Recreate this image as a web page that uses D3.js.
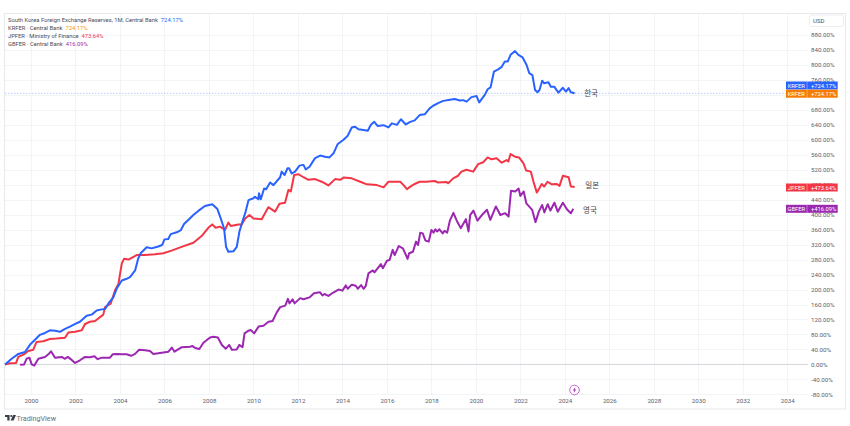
<!DOCTYPE html>
<html>
<head>
<meta charset="utf-8">
<script src="https://cdn.jsdelivr.net/npm/d3@7"></script>
<style>
  html, body { margin: 0; padding: 0; background: #fff; }
  svg { display: block; }
  text { font-family: Roboto, sans-serif; }
  text.country { font-family: "Noto Sans CJK KR", sans-serif; writing-mode: horizontal-tb; text-orientation: mixed; }
</style>
</head>
<body>
<div id="chart"></div>
<script>
// [year, % change]
const krfer = [
  [1998.83,0],[1999.13,15],[1999.43,28],[1999.73,33],[1999.96,53],[2000.18,66],[2000.40,79],[2000.63,84],
  [2000.85,91],[2001.08,90],[2001.30,87],[2001.53,95],[2001.75,101],[2001.99,108],[2002.2,114],[2002.5,130],
  [2002.73,133],[2002.95,144],[2003.18,147],[2003.33,148],[2003.48,163],[2003.70,179],[2003.85,202],[2004.08,224],
  [2004.27,228],[2004.45,233],[2004.68,251],[2004.82,283],[2004.93,297],[2005.2,313],[2005.42,310],[2005.72,315],
  [2005.9,319],[2006.0,334],[2006.17,335],[2006.28,348],[2006.55,353],[2006.74,359],[2006.88,375],[2007.07,386],
  [2007.3,399],[2007.52,410],[2007.82,423],[2008.15,428],[2008.38,415],[2008.53,390],[2008.68,363],[2008.77,314],
  [2008.87,301],[2009.1,302],[2009.25,314],[2009.37,355],[2009.55,390],[2009.63,404],[2009.78,439],[2010,444],
  [2010.07,448],[2010.22,441],[2010.25,457],[2010.33,441],[2010.48,470],[2010.57,468],[2010.75,486],[2010.9,479],
  [2011.2,500],[2011.27,515],[2011.4,506],[2011.53,524],[2011.6,524],[2011.72,510],[2011.87,515],[2012.07,531],
  [2012.25,533],[2012.35,521],[2012.52,528],[2012.77,551],[2013.0,558],[2013.22,555],[2013.42,553],[2013.6,564],
  [2013.78,588],[2014.05,600],[2014.23,610],[2014.42,633],[2014.57,635],[2014.72,628],[2014.95,626],[2015.14,624],
  [2015.28,640],[2015.43,648],[2015.58,637],[2015.85,639],[2016.07,633],[2016.22,644],[2016.45,640],[2016.63,655],
  [2016.85,641],[2017.05,648],[2017.25,652],[2017.47,666],[2017.7,668],[2017.92,684],[2018.08,691],[2018.3,698],
  [2018.53,704],[2018.83,707],[2019.05,709],[2019.28,705],[2019.43,706],[2019.58,702],[2019.8,714],[2020.03,717],
  [2020.15,700],[2020.4,720],[2020.53,735],[2020.66,740],[2020.81,782],[2021.0,788],[2021.15,794],[2021.3,809],
  [2021.43,809],[2021.56,827],[2021.76,837],[2021.91,827],[2022.1,820],[2022.28,800],[2022.4,778],[2022.54,773],
  [2022.66,733],[2022.77,727],[2022.86,733],[2022.98,758],[2023.07,751],[2023.26,754],[2023.37,742],[2023.52,742],
  [2023.71,726],[2023.91,739],[2024.05,729],[2024.17,738],[2024.27,727],[2024.44,724.17]
];

const jpfer = [
  [1998.83,0],[1999.06,3],[1999.33,4],[1999.43,20],[1999.66,26],[1999.88,36],[2000.1,39],[2000.25,60],
  [2000.55,62],[2000.85,68],[2001.15,69],[2001.53,71],[2001.68,85],[2001.98,87],[2002.28,91],[2002.43,108],
  [2002.65,114],[2002.88,116],[2003.25,133],[2003.33,153],[2003.58,162],[2003.78,198],[2003.93,215],[2004.08,269],
  [2004.18,282],[2004.38,280],[2004.75,292],[2005.12,292],[2005.57,294],[2005.95,297],[2006.32,304],[2006.77,314],
  [2007.3,325],[2007.67,343],[2007.97,365],[2008.15,374],[2008.3,365],[2008.5,368],[2008.72,359],[2008.87,379],
  [2008.98,370],[2009.32,374],[2009.47,374],[2009.63,390],[2009.82,399],[2010,390],[2010.37,388],[2010.67,420],
  [2010.97,408],[2011.17,429],[2011.42,432],[2011.57,466],[2011.68,462],[2011.83,506],[2012.03,508],[2012.25,500],
  [2012.47,493],[2012.77,495],[2013.07,488],[2013.37,478],[2013.67,495],[2013.9,493],[2014.05,499],[2014.42,497],
  [2014.8,488],[2015.1,481],[2015.55,479],[2015.85,473],[2016.07,488],[2016.3,488],[2016.6,488],[2016.75,479],
  [2016.9,468],[2017.05,475],[2017.25,482],[2017.47,488],[2017.77,488],[2018.15,490],[2018.3,486],[2018.68,487],
  [2018.75,484],[2018.98,497],[2019.2,504],[2019.35,515],[2019.58,520],[2019.88,515],[2020.1,535],[2020.33,540],
  [2020.53,553],[2020.7,548],[2020.93,551],[2021.16,539],[2021.38,546],[2021.46,542],[2021.56,562],[2021.76,555],
  [2021.94,553],[2022.14,537],[2022.26,518],[2022.47,515],[2022.59,488],[2022.74,459],[2022.86,471],[2022.96,482],
  [2023.07,475],[2023.22,488],[2023.41,481],[2023.64,482],[2023.76,477],[2023.91,504],[2024.17,500],[2024.27,475],
  [2024.44,473.64]
];

const gbfer = [
  [1999.51,-1],[1999.69,0],[1999.8,15],[1999.93,18],[2000.03,0],[2000.15,-3],[2000.33,15],[2000.63,20],
  [2000.78,27],[2000.9,35],[2001.08,18],[2001.38,20],[2001.53,15],[2001.65,20],[2001.83,12],[2001.98,4],
  [2002.2,11],[2002.43,20],[2002.65,19],[2002.85,22],[2003.0,14],[2003.18,18],[2003.37,18],[2003.55,18],
  [2003.67,27],[2003.85,28],[2004.08,27],[2004.3,27],[2004.5,23],[2004.68,28],[2004.86,39],[2005.13,38],
  [2005.35,36],[2005.5,28],[2005.95,32],[2006.18,34],[2006.33,45],[2006.45,34],[2006.78,46],[2007.15,47],
  [2007.26,49],[2007.38,44],[2007.57,41],[2007.75,58],[2008.05,72],[2008.2,74],[2008.4,72],[2008.58,52],
  [2008.76,42],[2008.91,52],[2009.03,39],[2009.25,40],[2009.36,52],[2009.51,46],[2009.6,83],[2009.78,90],
  [2009.88,92],[2010.03,83],[2010.23,101],[2010.45,103],[2010.68,114],[2010.86,116],[2011.05,139],[2011.2,153],
  [2011.43,157],[2011.55,175],[2011.62,163],[2011.76,174],[2011.85,163],[2012.1,177],[2012.25,174],[2012.52,179],
  [2012.72,190],[2012.99,193],[2013.1,184],[2013.19,188],[2013.37,183],[2013.59,192],[2013.82,200],[2014,197],
  [2014.15,211],[2014.24,202],[2014.42,213],[2014.6,210],[2014.69,202],[2014.84,212],[2014.95,202],[2015.05,210],
  [2015.17,243],[2015.37,251],[2015.44,246],[2015.73,268],[2015.82,257],[2016,277],[2016.12,279],[2016.26,306],
  [2016.35,292],[2016.53,316],[2016.72,310],[2016.93,282],[2017.0,297],[2017.17,301],[2017.31,328],[2017.4,319],
  [2017.5,352],[2017.61,350],[2017.73,331],[2017.88,328],[2018,359],[2018.1,352],[2018.18,361],[2018.26,355],
  [2018.36,361],[2018.51,350],[2018.59,357],[2018.71,352],[2018.83,384],[2018.99,405],[2019.14,384],[2019.22,375],
  [2019.32,364],[2019.55,388],[2019.67,355],[2019.74,399],[2019.89,411],[2020.07,384],[2020.27,399],[2020.5,413],
  [2020.65,386],[2020.9,422],[2021.1,399],[2021.32,404],[2021.47,395],[2021.58,464],[2021.77,462],[2021.92,470],
  [2022,450],[2022.15,462],[2022.27,430],[2022.53,413],[2022.68,380],[2022.83,408],[2022.98,426],[2023.08,406],
  [2023.23,428],[2023.35,411],[2023.53,432],[2023.68,408],[2023.91,432],[2024.1,414],[2024.27,404],[2024.38,416.09]
];

const yearTicks = d3.range(2000, 2036, 2);
const gridPcts = d3.range(-80, 881, 40);
// 720% sits completely behind the KRFER tags, so it gets no label
const pctTicks = gridPcts.filter((d) => d !== 720);

const legendRows = [
  { name: "South Korea Foreign Exchange Reserves, 1M, Central Bank", value: "724.17%", color: "#2962ff" },
  { name: "KRFER · Central Bank", value: "724.17%", color: "#ff9800" },
  { name: "JPFER · Ministry of Finance", value: "473.64%", color: "#f23645" },
  { name: "GBFER · Central Bank", value: "416.09%", color: "#9c27b0" },
];

const priceTags = [
  { name: "KRFER", value: "+724.17%", y: 85.5, color: "#2962ff" },
  { name: "KRFER", value: "+724.17%", y: 93.7, color: "#f57c00" },
  { name: "JPFER", value: "+473.64%", y: 187.5, color: "#f23645" },
  { name: "GBFER", value: "+416.09%", y: 208.8, color: "#9c27b0" },
];

const countryLabels = [
  { text: "한국", year: 2024.87, pct: 724 },
  { text: "일본", year: 2024.92, pct: 477 },
  { text: "영국", year: 2024.82, pct: 412 },
];

const width = 850;
const height = 426;
const paneRight = 808;
const paneBottom = 395;

const svg = d3.select("#chart").append("svg").attr("width", width).attr("height", height);

const x = d3.scaleLinear().domain([2000, 2034]).range([31, 787.3]);
const y = d3.scaleLinear().domain([0, 880]).range([364.4, 35]);

// Outer frame
svg.append("rect")
  .attr("x", 4.5)
  .attr("y", 13.5)
  .attr("width", 841)
  .attr("height", 395.5)
  .attr("fill", "#fff")
  .attr("stroke", "#e8e9ed");

// Gridlines
svg.append("g")
  .selectAll("line")
  .data(gridPcts)
  .enter()
  .append("line")
  .attr("x1", 5)
  .attr("x2", paneRight)
  .attr("y1", (d) => Math.round(y(d)) + 0.5)
  .attr("y2", (d) => Math.round(y(d)) + 0.5)
  .attr("stroke", "#f3f4f6");

svg.append("g")
  .selectAll("line")
  .data(yearTicks)
  .enter()
  .append("line")
  .attr("x1", (d) => Math.round(x(d)) + 0.5)
  .attr("x2", (d) => Math.round(x(d)) + 0.5)
  .attr("y1", 14)
  .attr("y2", paneBottom)
  .attr("stroke", "#f3f4f6");

// Zero line
svg.append("line")
  .attr("x1", 5)
  .attr("x2", paneRight)
  .attr("y1", y(0))
  .attr("y2", y(0))
  .attr("stroke", "#d4d4dc");

// Last value line
svg.append("line")
  .attr("x1", 5)
  .attr("x2", paneRight)
  .attr("y1", y(724.17))
  .attr("y2", y(724.17))
  .attr("stroke", "#2962ff")
  .attr("stroke-opacity", 0.3)
  .attr("stroke-dasharray", "1.5 1.5");

// Axes
const xAxis = svg.append("g")
  .attr("transform", `translate(0, ${paneBottom})`)
  .call(d3.axisBottom(x).tickValues(yearTicks).tickFormat(d3.format("d")).tickSize(0).tickPadding(4));

const yAxis = svg.append("g")
  .attr("transform", `translate(${paneRight}, 0)`)
  .call(d3.axisRight(y).tickValues(pctTicks).tickFormat((d) => `${d.toFixed(2)}%`).tickSize(0).tickPadding(3));

[xAxis, yAxis].forEach((axis) => {
  axis.select(".domain").remove();
  axis.selectAll("text").attr("font-size", 6.2).attr("fill", "#5d606b").attr("font-family", "Roboto, sans-serif");
});

// Series lines
const line = d3.line().x((d) => x(d[0])).y((d) => y(d[1]));

[
  { data: gbfer, color: "#9c27b0" },
  { data: jpfer, color: "#f23645" },
  { data: krfer, color: "#2962ff" },
].forEach((s) => {
  svg.append("path")
    .datum(s.data)
    .attr("fill", "none")
    .attr("stroke", s.color)
    .attr("stroke-width", 2)
    .attr("stroke-linejoin", "round")
    .attr("d", line);
});

// Country labels
svg.append("g")
  .selectAll("text")
  .data(countryLabels)
  .enter()
  .append("text")
  .attr("class", "country")
  .attr("x", (d) => x(d.year))
  .attr("y", (d) => y(d.pct))
  .attr("dy", "0.35em")
  .attr("font-size", 7.5)
  .attr("fill", "#444")
  .text((d) => d.text);

// Legend
const legend = svg.append("g")
  .selectAll("text")
  .data(legendRows)
  .enter()
  .append("text")
  .attr("x", 8)
  .attr("y", (d, i) => 22 + i * 8.1)
  .attr("font-size", 5.8)
  .attr("fill", "#4a4d57");

legend.append("tspan").text((d) => d.name);
legend.append("tspan")
  .attr("dx", 3)
  .attr("fill", (d) => d.color)
  .text((d) => d.value);

// USD button
svg.append("rect")
  .attr("x", 809.5)
  .attr("y", 15)
  .attr("width", 34)
  .attr("height", 11.5)
  .attr("rx", 2)
  .attr("fill", "#fff")
  .attr("stroke", "#eceef2");

svg.append("text")
  .attr("x", 813)
  .attr("y", 23)
  .attr("font-size", 6)
  .attr("fill", "#4a4d57")
  .text("USD");

// Price tags
const tags = svg.append("g")
  .selectAll("g")
  .data(priceTags)
  .enter()
  .append("g")
  .attr("transform", (d) => `translate(786, ${d.y - 4})`);

tags.append("rect").attr("width", 51.7).attr("height", 8).attr("fill", (d) => d.color);
tags.append("rect").attr("x", 20.7).attr("width", 0.7).attr("height", 8).attr("fill", "#fff").attr("fill-opacity", 0.5);

tags.append("text")
  .attr("x", 10.3)
  .attr("y", 6.1)
  .attr("text-anchor", "middle")
  .attr("font-size", 5.8)
  .attr("fill", "#fff")
  .text((d) => d.name);

tags.append("text")
  .attr("x", 25)
  .attr("y", 6.1)
  .attr("font-size", 5.8)
  .attr("fill", "#fff")
  .text((d) => d.value);

// Lightning marker below the series
const marker = svg.append("g").attr("transform", "translate(574.5, 390)");
marker.append("circle").attr("r", 4.8).attr("fill", "#fff").attr("stroke", "#c850d0").attr("stroke-width", 0.9);
marker.append("path")
  .attr("d", "M0.8,-3 L-1.6,0.4 L-0.2,0.4 L-0.8,3 L1.6,-0.6 L0.2,-0.6 Z")
  .attr("fill", "#9c27b0");

// TradingView logo
const logo = svg.append("g").attr("transform", "translate(5, 415)").attr("fill", "#3b3f4a");
logo.append("path").attr("d", "M0,0 H4.6 V5.4 H2.3 V2 H0 Z");
logo.append("circle").attr("cx", 6.2).attr("cy", 1).attr("r", 1);
logo.append("path").attr("d", "M8,0 H11 L8.6,5.4 H5.6 Z");

svg.append("text")
  .attr("x", 16.5)
  .attr("y", 420.5)
  .attr("font-size", 7.2)
  .attr("fill", "#6a6d78")
  .text("TradingView");
</script>
</body>
</html>
